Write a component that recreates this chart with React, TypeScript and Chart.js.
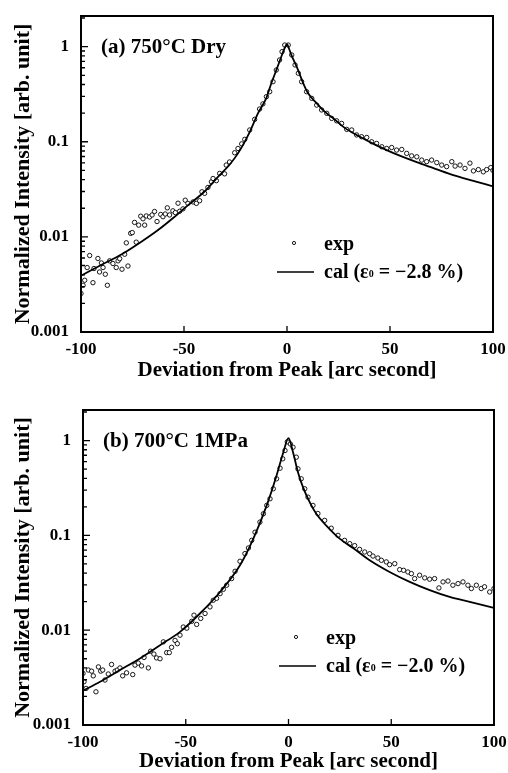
import React, { useEffect, useRef } from "react";
import { Chart, registerables } from "chart.js";
Chart.register(...registerables);

const xTicks = [-100, -50, 0, 50, 100];
const yTicks = [0.001, 0.01, 0.1, 1];
const FONT = "'Liberation Serif', 'Times New Roman', serif";

// Panel (a) 750°C Dry
const expAX = [-100, -99.0, -98.2, -97.0, -95.8, -94.2, -93.7, -91.8, -91.0, -90.1, -89.3, -88.2, -87.2, -86.1, -84.5, -82.9, -82.0, -81.2, -80.1, -78.8, -78.0, -77.2, -75.9, -75.1, -74.0, -73.2, -72.0, -71.0, -69.9, -69.1, -68.3, -66.7, -65.5, -64.3, -63.1, -61.3, -60.2, -59.1, -58.1, -57.0, -55.4, -54.2, -52.9, -52.1, -50.5, -49.4, -48.1, -45.6, -44.0, -42.4, -41.3, -40.0, -38.4, -36.7, -35.9, -34.3, -32.7, -30.3, -29.5, -27.9, -25.4, -23.8, -22.0, -20.5, -18.1, -15.7, -13.3, -11.7, -10.0, -8.4, -6.8, -5.2, -3.6, -2.4, -1.1, 0.6, 2.3, 3.9, 5.5, 7.1, 9.5, 12.0, 14.4, 16.8, 19.3, 21.7, 24.1, 26.5, 29.0, 31.4, 33.8, 36.2, 38.7, 41.1, 43.5, 46.0, 48.4, 50.8, 53.2, 55.7, 58.1, 60.5, 63.0, 65.4, 67.8, 70.2, 72.7, 75.1, 77.5, 80.0, 81.6, 84.0, 86.4, 88.8, 90.5, 92.9, 95.3, 96.9, 98.9, 100];
const expAY = [0.00254, 0.0031, 0.0035, 0.00476, 0.00637, 0.0033, 0.00465, 0.00593, 0.00428, 0.00532, 0.00476, 0.00405, 0.0031, 0.0056, 0.00525, 0.00476, 0.0056, 0.0059, 0.00457, 0.00657, 0.00865, 0.00494, 0.0109, 0.0111, 0.0142, 0.0088, 0.0133, 0.0165, 0.0155, 0.0133, 0.0166, 0.0162, 0.017, 0.0185, 0.0145, 0.0172, 0.0163, 0.0174, 0.0202, 0.017, 0.0188, 0.018, 0.0226, 0.0186, 0.0197, 0.0243, 0.0225, 0.0233, 0.0225, 0.024, 0.0298, 0.0287, 0.0331, 0.0379, 0.0411, 0.039, 0.0465, 0.046, 0.0569, 0.0613, 0.0766, 0.085, 0.095, 0.106, 0.133, 0.172, 0.221, 0.25, 0.298, 0.336, 0.428, 0.568, 0.724, 0.886, 1.04, 1.04, 0.818, 0.642, 0.525, 0.428, 0.336, 0.286, 0.243, 0.216, 0.199, 0.176, 0.166, 0.156, 0.135, 0.133, 0.118, 0.113, 0.111, 0.1, 0.096, 0.0886, 0.085, 0.087, 0.0818, 0.083, 0.0755, 0.071, 0.0695, 0.0642, 0.0618, 0.0642, 0.0604, 0.0569, 0.0548, 0.0618, 0.0555, 0.0569, 0.0525, 0.0596, 0.0494, 0.051, 0.0483, 0.051, 0.0535, 0.05];
const calAX = [-100, -90, -80, -70, -62.6, -55, -48, -40, -33.5, -28, -23.8, -18, -14.1, -10, -7.6, -5, -3, -1, 0, 1, 2, 4.7, 7.9, 10, 14.4, 18, 22.5, 28, 35.4, 42, 48.4, 55, 64.6, 72, 80.7, 90, 100];
const calAY = [0.0039, 0.0051, 0.0066, 0.0091, 0.0118, 0.016, 0.0216, 0.03, 0.0428, 0.057, 0.0755, 0.128, 0.199, 0.29, 0.412, 0.58, 0.76, 0.98, 1.06, 0.95, 0.83, 0.616, 0.412, 0.33, 0.254, 0.21, 0.176, 0.14, 0.113, 0.095, 0.0818, 0.071, 0.0593, 0.052, 0.0446, 0.039, 0.034];

// Panel (b) 700°C 1MPa
const expBX = [-100, -99.5, -98.5, -97.4, -95.8, -95.0, -93.7, -92.5, -91.4, -90.4, -89.3, -87.7, -86.1, -84.4, -83.3, -82.0, -80.7, -78.8, -75.8, -74.7, -73.1, -71.5, -70.3, -68.2, -67.1, -65.5, -64.2, -62.5, -60.9, -59.3, -58.0, -56.9, -55.2, -54.1, -52.8, -51.2, -49.5, -47.1, -46.0, -44.7, -42.7, -40.6, -38.2, -36.6, -35.0, -33.3, -31.7, -30.1, -27.7, -26.0, -23.6, -21.2, -19.5, -17.9, -16.3, -13.9, -12.2, -10.6, -9.0, -7.4, -5.8, -4.1, -2.8, -1.7, -0.6, 0.9, 2.2, 3.8, 4.6, 6.2, 7.9, 9.5, 11.9, 14.3, 17.6, 20.8, 24.1, 27.3, 29.8, 32.2, 34.6, 37.1, 39.5, 41.1, 43.5, 45.2, 47.6, 49.2, 51.7, 54.1, 56.0, 58.1, 59.8, 61.4, 63.8, 66.3, 68.7, 71.1, 73.2, 75.2, 77.6, 80.0, 82.5, 84.9, 87.3, 89.0, 91.4, 93.8, 95.4, 97.9, 100];
const expBY = [0.0035, 0.00286, 0.00243, 0.0038, 0.0037, 0.0033, 0.00224, 0.0041, 0.0037, 0.0038, 0.00298, 0.00345, 0.00435, 0.0037, 0.0038, 0.004, 0.0033, 0.00355, 0.0034, 0.00428, 0.0045, 0.0042, 0.00516, 0.004, 0.006, 0.0056, 0.0051, 0.005, 0.00753, 0.0058, 0.0058, 0.0066, 0.0078, 0.0072, 0.00886, 0.0108, 0.0105, 0.0124, 0.0144, 0.0115, 0.0133, 0.015, 0.0176, 0.0207, 0.0217, 0.0243, 0.027, 0.0298, 0.035, 0.0418, 0.0533, 0.0642, 0.0736, 0.0886, 0.108, 0.138, 0.169, 0.207, 0.243, 0.31, 0.395, 0.511, 0.642, 0.785, 0.97, 0.92, 0.85, 0.668, 0.503, 0.395, 0.31, 0.253, 0.207, 0.17, 0.144, 0.119, 0.1, 0.0886, 0.0818, 0.078, 0.0712, 0.0668, 0.064, 0.0605, 0.0577, 0.0546, 0.0525, 0.0491, 0.0503, 0.0435, 0.0428, 0.0411, 0.0395, 0.035, 0.038, 0.0356, 0.0345, 0.035, 0.0279, 0.0323, 0.033, 0.0298, 0.031, 0.0323, 0.0298, 0.0275, 0.0298, 0.0275, 0.0287, 0.0253, 0.0275];
const calBX = [-100, -91.7, -82, -72.3, -62.5, -52.8, -43.1, -33.3, -23.6, -17.1, -10.6, -5.8, -2.5, 0, 2.2, 4.6, 7.05, 10.3, 13.5, 18.4, 24.9, 31.4, 39.5, 49.2, 59, 68.7, 78.4, 88.2, 100];
const calBY = [0.0023, 0.00286, 0.0038, 0.00504, 0.00695, 0.0096, 0.015, 0.0253, 0.0483, 0.0923, 0.207, 0.428, 0.753, 1.06, 0.753, 0.464, 0.323, 0.224, 0.169, 0.127, 0.0923, 0.0736, 0.0546, 0.0411, 0.0323, 0.0264, 0.0224, 0.0199, 0.0172];

const panelLabels = ["(a) 750°C Dry", "(b) 700°C 1MPa"];
const epsLabels = ["−2.8 %", "−2.0 %"];
const xTitle = "Deviation from Peak [arc second]";
const yTitle = "Normalized Intensity [arb. unit]";

type PanelProps = {
  top: number; height: number; areaTop: number; areaBottom: number; areaLeft: number; areaRight: number;
  padBottom: number; label: string; eps: string;
  ex: number[]; ey: number[]; cx: number[]; cy: number[];
};

function Panel(p: PanelProps) {
  const ref = useRef<HTMLCanvasElement | null>(null);
  useEffect(() => {
    if (!ref.current) return;
    const decor = {
      id: "decor",
      afterDraw(chart: any) {
        const { ctx, chartArea } = chart;
        const { left, right, top, bottom } = chartArea;
        const x = chart.scales.x, y = chart.scales.y;
        ctx.save();
        ctx.strokeStyle = "#000";
        ctx.lineWidth = 2;
        ctx.strokeRect(left, top, right - left, bottom - top);
        ctx.lineWidth = 1.3;
        ctx.beginPath();
        for (let e = -3; e <= 0; e++) {
          for (let m = 1; m <= 9; m++) {
            const v = m * Math.pow(10, e);
            if (v > y.max) continue;
            const py = y.getPixelForValue(v);
            const len = m === 1 ? 7 : 4;
            ctx.moveTo(left, py);
            ctx.lineTo(left + len, py);
          }
        }
        for (const t of xTicks) {
          const px = x.getPixelForValue(t);
          ctx.moveTo(px, bottom);
          ctx.lineTo(px, bottom - 6);
        }
        ctx.stroke();
        // panel label
        ctx.fillStyle = "#000";
        ctx.textBaseline = "alphabetic";
        ctx.textAlign = "left";
        ctx.font = `bold 21px ${FONT}`;
        ctx.fillText(p.label, left + 20, top + 37);
        // legend
        ctx.lineWidth = 0.9;
        ctx.beginPath();
        ctx.arc(left + 213, top + 227, 1.6, 0, Math.PI * 2);
        ctx.stroke();
        ctx.font = `bold 20px ${FONT}`;
        ctx.fillText("exp", left + 243, top + 234);
        ctx.lineWidth = 1.6;
        ctx.beginPath();
        ctx.moveTo(left + 196, top + 256);
        ctx.lineTo(left + 233, top + 256);
        ctx.stroke();
        let tx = left + 243;
        const by = top + 262;
        const s1 = "cal (ε";
        ctx.fillText(s1, tx, by);
        tx += ctx.measureText(s1).width;
        ctx.font = `bold 10px ${FONT}`;
        ctx.fillText("0", tx, by - 1);
        tx += ctx.measureText("0").width;
        ctx.font = `bold 20px ${FONT}`;
        ctx.fillText(" = " + p.eps + ")", tx, by);
        ctx.restore();
      },
    };
    const expData = p.ex.map((v, i) => ({ x: v, y: p.ey[i] }));
    const calData = p.cx.map((v, i) => ({ x: v, y: p.cy[i] }));
    const chart = new Chart(ref.current, {
      type: "line",
      data: {
        datasets: [
          {
            label: "exp",
            data: expData,
            showLine: false,
            pointRadius: 2.2,
            pointBorderWidth: 0.9,
            pointBorderColor: "#000",
            pointBackgroundColor: "#fff",
            borderColor: "#000",
            order: 2,
          },
          {
            label: "cal",
            data: calData,
            borderColor: "#000",
            borderWidth: 1.8,
            pointRadius: 0,
            cubicInterpolationMode: "monotone",
            fill: false,
            order: 1,
          },
        ],
      } as any,
      options: {
        responsive: false,
        animation: false,
        events: [],
        layout: { padding: { left: 0, top: p.areaTop, right: 508 - p.areaRight, bottom: p.padBottom } },
        plugins: { legend: { display: false }, tooltip: { enabled: false } },
        scales: {
          x: {
            type: "linear",
            min: -100,
            max: 100,
            afterBuildTicks: (s: any) => { s.ticks = xTicks.map((v) => ({ value: v })); },
            afterFit: (s: any) => {
              s.height = p.height - p.padBottom - p.areaBottom;
              s.paddingLeft = 0;
              s.paddingRight = 0;
            },
            grid: { display: false, drawTicks: false },
            border: { display: false },
            ticks: {
              color: "#000",
              autoSkip: false,
              maxRotation: 0,
              padding: 7,
              font: { family: FONT, size: 17, weight: "bold" },
              callback: (v: any) => String(v),
            },
            title: {
              display: true,
              text: xTitle,
              color: "#000",
              font: { family: FONT, size: 21, weight: "bold", lineHeight: 1 },
              padding: { top: 0, bottom: 0 },
            },
          },
          y: {
            type: "logarithmic",
            min: 0.001,
            max: 2.1,
            afterBuildTicks: (s: any) => { s.ticks = yTicks.map((v) => ({ value: v })); },
            afterFit: (s: any) => {
              s.width = p.areaLeft;
              s.paddingTop = 0;
              s.paddingBottom = 0;
            },
            grid: { display: false, drawTicks: false },
            border: { display: false },
            ticks: {
              color: "#000",
              autoSkip: false,
              padding: 12,
              font: { family: FONT, size: 17, weight: "bold" },
              callback: (v: any) => String(v),
            },
            title: {
              display: true,
              text: yTitle,
              color: "#000",
              font: { family: FONT, size: 22, weight: "bold", lineHeight: 1 },
              padding: { top: 12, bottom: 0 },
            },
          },
        },
      } as any,
      plugins: [decor],
    });
    return () => chart.destroy();
  }, []);
  return (
    <canvas
      ref={ref}
      width={508}
      height={p.height}
      style={{ position: "absolute", left: 0, top: p.top, width: 508, height: p.height }}
    />
  );
}

export default function App() {
  return (
    <div style={{ position: "absolute", left: 0, top: 0, width: 508, height: 773, background: "#fff", overflow: "hidden" }}>
      <Panel top={0} height={385} areaTop={16} areaBottom={332} areaLeft={81} areaRight={493} padBottom={4}
        label={panelLabels[0]} eps={epsLabels[0]} ex={expAX} ey={expAY} cx={calAX} cy={calAY} />
      <Panel top={385} height={388} areaTop={25} areaBottom={340} areaLeft={83} areaRight={494} padBottom={1}
        label={panelLabels[1]} eps={epsLabels[1]} ex={expBX} ey={expBY} cx={calBX} cy={calBY} />
    </div>
  );
}
